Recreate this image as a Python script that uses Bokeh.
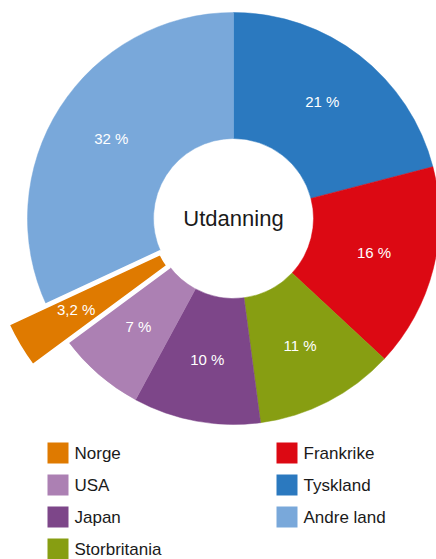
import math
from bokeh.plotting import figure
from bokeh.models import Range1d, ColumnDataSource
from bokeh.core.properties import value
from bokeh.embed import file_html
from bokeh.resources import INLINE

# ---- data (pie order, clockwise from top) ----
categories = ["Tyskland", "Frankrike", "Storbritania", "Japan", "USA", "Norge", "Andre land"]
shares = [21, 16, 11, 10, 7, 3.2, 32]
labels = ["21 %", "16 %", "11 %", "10 %", "7 %", "3,2 %", "32 %"]
colors = ["#2B79BF", "#DC0913", "#879E12", "#7D4689", "#AC80B3", "#DF7A00", "#79A8DA"]
exploded = "Norge"
center_title = "Utdanning"
legend_left = ["Norge", "USA", "Japan", "Storbritania"]
legend_right = ["Frankrike", "Tyskland", "Andre land"]

W, H = 436, 559
FONT = "Liberation Sans"

def sy(y):
    # screen y -> data y
    return H - y

p = figure(width=W, height=H, output_backend="svg", toolbar_location=None,
           x_range=Range1d(0, W), y_range=Range1d(0, H),
           min_border=0, outline_line_color=None)
p.axis.visible = False
p.grid.visible = False
p.background_fill_color = "white"
p.border_fill_color = "white"

cx, cy = 233, sy(218)
r_in, r_out, r_expl = 80, 206, 250

total = sum(shares)
starts, ends, outs, lx, ly = [], [], [], [], []
cum = 0.0
for c, s in zip(categories, shares):
    a_end = math.pi / 2 - 2 * math.pi * cum / total
    cum += s
    a_start = math.pi / 2 - 2 * math.pi * cum / total
    starts.append(a_start)
    ends.append(a_end)
    outs.append(r_expl if c == exploded else r_out)
    mid = (a_start + a_end) / 2
    lr = 183 if c == exploded else 145
    lx.append(cx + lr * math.cos(mid))
    ly.append(cy + lr * math.sin(mid) + 2)

normal = [i for i, c in enumerate(categories) if c != exploded]
expl = [i for i, c in enumerate(categories) if c == exploded]

def sub(idx):
    return ColumnDataSource(dict(
        x=[cx] * len(idx), y=[cy] * len(idx),
        s=[starts[i] for i in idx], e=[ends[i] for i in idx],
        ro=[outs[i] for i in idx], col=[colors[i] for i in idx]))

p.annular_wedge(x="x", y="y", inner_radius=r_in, outer_radius="ro",
                start_angle="s", end_angle="e", fill_color="col",
                line_color="col", line_width=0.5, source=sub(normal))
p.annular_wedge(x="x", y="y", inner_radius=r_in, outer_radius="ro",
                start_angle="s", end_angle="e", fill_color="col",
                line_color="white", line_width=5, source=sub(expl))

# percentage labels
p.text(x=lx, y=ly, text=labels, text_color="white", text_font=value(FONT),
       text_font_size="15px", text_align="center", text_baseline="middle")

# centre title
p.text(x=[cx], y=[cy], text=[center_title], text_color="#1a1a1a",
       text_font=value(FONT), text_font_size="22px",
       text_align="center", text_baseline="middle")

# legend
color_of = dict(zip(categories, colors))
row0, step, sw = 452.5, 32, 21
for col_x, names in ((47, legend_left), (276, legend_right)):
    xs = [col_x + sw / 2] * len(names)
    ys = [sy(row0 + k * step) for k in range(len(names))]
    p.rect(x=xs, y=ys, width=sw, height=sw, fill_color=[color_of[n] for n in names],
           line_color=None)
    p.text(x=[col_x + sw + 6] * len(names), y=ys, text=names, text_color="#1a1a1a",
           text_font=value(FONT), text_font_size="17px",
           text_align="left", text_baseline="middle")

open("out.html", "w").write(file_html(p, INLINE))
